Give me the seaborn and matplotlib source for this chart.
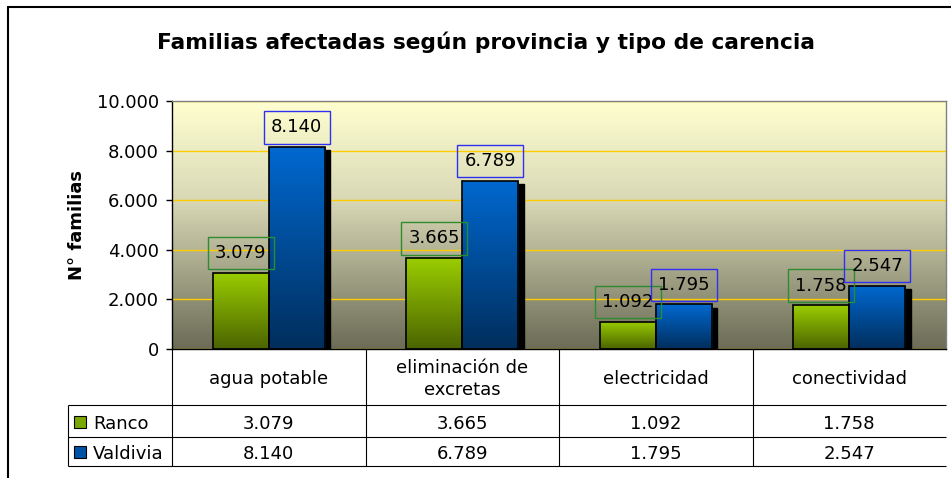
import numpy as np
import pandas as pd
import seaborn as sns
import matplotlib.pyplot as plt
from matplotlib.colors import LinearSegmentedColormap
from matplotlib.patches import Rectangle
from matplotlib.lines import Line2D
from matplotlib.ticker import FuncFormatter
from matplotlib.transforms import offset_copy

# datos
categorias = ['agua potable', 'eliminación de\nexcretas', 'electricidad', 'conectividad']
provincias = ['Ranco', 'Valdivia']
ranco = [3079, 3665, 1092, 1758]
valdivia = [8140, 6789, 1795, 2547]
titulo = 'Familias afectadas según provincia y tipo de carencia'
eje_y = 'N° familias'
y_ticks = [0, 2000, 4000, 6000, 8000, 10000]

# colores: oscuro abajo, claro arriba
grad_verde = ['#4B6400', '#9ACD00']
grad_azul = ['#002E5C', '#0068D0']
caja_colores = ['#2E8B2E', '#3030F0']
ley_colores = ['#7AA800', '#0052A6']
fondo = [(0, '#6C6C57'), (0.6, '#D8D8B6'), (1, '#FFFFD0')]

df = pd.DataFrame({'carencia': categorias * 2,
                   'provincia': np.repeat(provincias, len(categorias)),
                   'familias': ranco + valdivia})


def fmt(v):
    return f'{int(v):,}'.replace(',', '.')


sns.set_style('white')
plt.rcParams['font.family'] = ['DejaVu Sans']
plt.rcParams['text.color'] = 'black'
plt.rcParams['axes.labelcolor'] = 'black'

W, H = 951, 478
fig = plt.figure(figsize=(W / 100, H / 100), dpi=100)


def px_rect(x0, y0, x1, y1):
    # rectangulo en pixeles (desde arriba) -> fraccion de figura
    return [x0 / W, 1 - y1 / H, (x1 - x0) / W, (y1 - y0) / H]


ax = fig.add_axes(px_rect(172, 101, 946, 349))
sns.barplot(data=df, x='carencia', y='familias', hue='provincia',
            palette=[grad_verde[1], grad_azul[1]], width=0.58, saturation=1,
            edgecolor='black', linewidth=1.2, errorbar=None, legend=False, ax=ax)

ax.set_ylim(y_ticks[0], y_ticks[-1])
ax.set_xlim(-0.5, len(categorias) - 0.5)
xa, xb = ax.get_xlim()
ramp = np.linspace(0, 1, 256).reshape(-1, 1)

# fondo degradado
ax.imshow(ramp, cmap=LinearSegmentedColormap.from_list('fondo', fondo),
          extent=(xa, xb, y_ticks[0], y_ticks[-1]), origin='lower', aspect='auto', zorder=0.2)

# barras con degradado y sombra
sombra_tr = offset_copy(ax.transData, fig=fig, x=4, y=-2.2, units='points')
for cont, grad in zip(ax.containers, [grad_verde, grad_azul]):
    cmap = LinearSegmentedColormap.from_list('barra', grad)
    for bar in cont:
        bx, by = bar.get_x(), bar.get_y()
        bw, bh = bar.get_width(), bar.get_height()
        ax.add_patch(Rectangle((bx, by), bw, bh, transform=sombra_tr,
                               facecolor='black', edgecolor='black', lw=1, zorder=1.0))
        im = ax.imshow(ramp, cmap=cmap, extent=(bx, bx + bw, by, by + bh),
                       origin='lower', aspect='auto', zorder=1.1)
        im.set_clip_path(bar)
        bar.set_facecolor('none')
        bar.set_zorder(1.2)

for cont, vals, ec in zip(ax.containers, [ranco, valdivia], caja_colores):
    ax.bar_label(cont, labels=[fmt(v) for v in vals], padding=7.7, fontsize=13, zorder=3,
                 bbox=dict(boxstyle='square,pad=0.4', fc='none', ec=ec, lw=1))

ax.set_xlim(xa, xb)
ax.set_ylim(y_ticks[0], y_ticks[-1])
ax.set_axisbelow(True)
ax.yaxis.grid(True, color='#FFCC00', lw=1)
ax.xaxis.grid(False)
ax.set_yticks(y_ticks)
ax.yaxis.set_major_formatter(FuncFormatter(lambda v, p: fmt(v)))
ax.tick_params(axis='y', left=True, length=4.5, width=1, color='black', pad=5,
               labelsize=13, labelcolor='black')
ax.tick_params(axis='x', bottom=False, labelbottom=False)
ax.set_xlabel('')
ax.set_ylabel(eje_y, fontsize=13, fontweight='bold')
ax.yaxis.set_label_coords(-0.111, 0.5)
for s in ['left', 'bottom']:
    ax.spines[s].set_color('black')
    ax.spines[s].set_linewidth(1)
for s in ['top', 'right']:
    ax.spines[s].set_color('#808080')
    ax.spines[s].set_linewidth(1)

# tabla de datos bajo el grafico
tab = fig.add_axes(px_rect(68, 349, 946, 466))
leg_w = (172 - 68) / ((946 - 172) / len(categorias))
x_izq = -0.5 - leg_w
tab.set_xlim(x_izq, len(categorias) - 0.5)
tab.set_ylim(117, 0)
tab.axis('off')
kw = dict(color='black', lw=0.8, clip_on=False)
tab.hlines([56, 88, 117], x_izq, len(categorias) - 0.5, **kw)
tab.vlines(np.arange(len(categorias)) - 0.5, 0, 117, **kw)
tab.vlines(x_izq, 56, 117, **kw)

for i, cat in enumerate(categorias):
    tab.text(i, 30, cat, ha='center', va='center', fontsize=13, linespacing=1.3)
for fila_y, nombre, vals, col in zip([75, 105], provincias, [ranco, valdivia], ley_colores):
    tab.plot(x_izq + 0.06, fila_y - 2, marker='s', ms=9, mfc=col, mec='black', mew=0.8, clip_on=False)
    tab.text(x_izq + 0.128, fila_y, nombre, ha='left', va='center', fontsize=13)
    for i, v in enumerate(vals):
        tab.text(i, fila_y, fmt(v), ha='center', va='center', fontsize=13)

fig.text(486 / W, 1 - 42 / H, titulo, ha='center', va='center', fontsize=15.7, fontweight='bold')

# marco exterior (solo izquierda y arriba visibles)
fig.add_artist(Line2D([8 / W, 8 / W], [0, 1 - 7 / H], color='black', lw=1.5, transform=fig.transFigure))
fig.add_artist(Line2D([8 / W, 1], [1 - 7 / H, 1 - 7 / H], color='black', lw=1.5, transform=fig.transFigure))

fig.savefig('out.png', dpi=100)
